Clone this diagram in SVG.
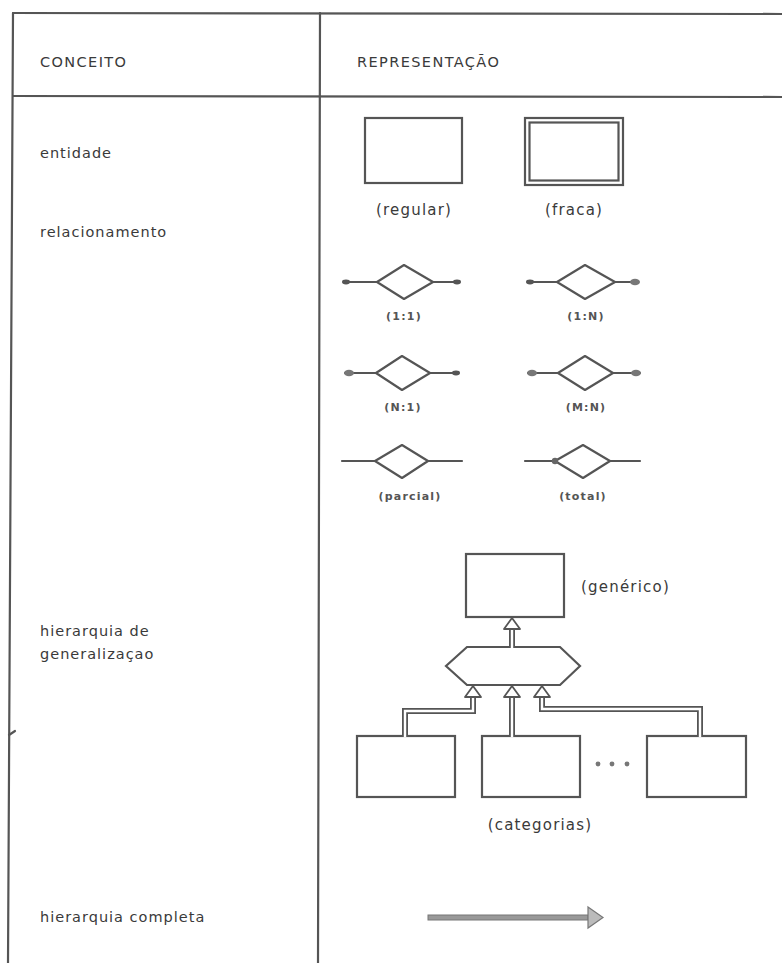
<svg xmlns="http://www.w3.org/2000/svg" width="782" height="963" viewBox="0 0 782 963">
<style>
.ln{stroke:#555;stroke-width:2.2;fill:none;stroke-linecap:round;stroke-linejoin:round}
.bx{stroke:#555;stroke-width:2.2;fill:#fff}
.t{font-family:"DejaVu Sans","Liberation Sans",sans-serif;font-size:14.5px;fill:#3a3a3a;letter-spacing:1px}
.c{font-family:"DejaVu Sans","Liberation Sans",sans-serif;font-size:15px;fill:#3a3a3a;letter-spacing:1.2px}
.h{font-family:"DejaVu Sans","Liberation Sans",sans-serif;font-size:14.5px;fill:#3a3a3a;letter-spacing:1.4px}
.s{font-family:"DejaVu Sans","Liberation Sans",sans-serif;font-size:11px;fill:#555;letter-spacing:1.2px;font-weight:bold}
.dbl{stroke:#555;stroke-width:6;fill:none;stroke-linejoin:miter}
.dbli{stroke:#fff;stroke-width:2.4;fill:none;stroke-linejoin:miter}
.head{fill:#fff;stroke:#555;stroke-width:1.8;stroke-linejoin:round}
.one{fill:#555}
.many{fill:#777}
</style>
<g id="table">
<path class="ln" d="M13,13 L782,14"/>
<path class="ln" d="M13,96 L782,97"/>
<path class="ln" d="M13,13 L8,963"/>
<path class="ln" d="M320,13 L318,963"/>
<path class="ln" d="M9,735 L15,731"/>
<text class="h" x="40" y="67">CONCEITO</text>
<text class="h" x="357" y="67">REPRESENTAÇÃO</text>
</g>
<g id="concepts">
<text class="t" x="40" y="158">entidade</text>
<text class="t" x="40" y="237">relacionamento</text>
<text class="t" x="40" y="636">hierarquia  de</text>
<text class="t" x="40" y="659">generalizaçao</text>
<text class="t" x="40" y="922" letter-spacing="0.6">hierarquia  completa</text>
</g>
<g id="entidade-regular">
<rect class="bx" x="365" y="118" width="97" height="65"/>
<text class="c" x="414" y="215" text-anchor="middle">(regular)</text>
</g>
<g id="entidade-fraca">
<rect class="bx" x="525" y="118" width="98" height="67"/>
<rect class="bx" x="529.5" y="122.5" width="89" height="58"/>
<text class="c" x="574" y="215" text-anchor="middle">(fraca)</text>
</g>
<g id="rel-1-1">
<path class="ln" d="M345,282 L377,282 L404,265 L433,282 L458,282 M377,282 L404,299 L433,282"/>
<ellipse class="one" cx="346" cy="282" rx="4" ry="2.4"/>
<ellipse class="one" cx="457" cy="282" rx="4" ry="2.4"/>
<text class="s" x="404" y="320" text-anchor="middle">(1:1)</text>
</g>
<g id="rel-1-N">
<path class="ln" d="M529,282 L557,282 L585,265 L615,282 L638,282 M557,282 L585,299 L615,282"/>
<ellipse class="one" cx="530" cy="282" rx="4" ry="2.4"/>
<ellipse class="many" cx="635" cy="282" rx="5" ry="3.2"/>
<text class="s" x="586" y="320" text-anchor="middle">(1:N)</text>
</g>
<g id="rel-N-1">
<path class="ln" d="M345,373 L376,373 L402,356 L430,373 L458,373 M376,373 L402,390 L430,373"/>
<ellipse class="many" cx="349" cy="373" rx="5" ry="3.2"/>
<ellipse class="one" cx="456" cy="373" rx="4" ry="2.4"/>
<text class="s" x="403" y="411" text-anchor="middle">(N:1)</text>
</g>
<g id="rel-M-N">
<path class="ln" d="M528,373 L558,373 L585,356 L613,373 L640,373 M558,373 L585,390 L613,373"/>
<ellipse class="many" cx="532" cy="373" rx="5" ry="3.2"/>
<ellipse class="many" cx="636" cy="373" rx="5" ry="3.2"/>
<text class="s" x="586" y="411" text-anchor="middle">(M:N)</text>
</g>
<g id="rel-parcial">
<path class="ln" d="M342,461 L375,461 L402,445 L428,461 L462,461 M375,461 L402,478 L428,461"/>
<text class="s" x="410" y="500" text-anchor="middle">(parcial)</text>
</g>
<g id="rel-total">
<path class="ln" d="M525,461 L555,461 L583,445 L610,461 L640,461 M555,461 L583,478 L610,461"/>
<circle cx="555" cy="461" r="3.2" fill="#666"/>
<text class="s" x="583" y="500" text-anchor="middle">(total)</text>
</g>
<g id="generico">
<rect class="bx" x="466" y="554" width="98" height="63"/>
<text class="c" x="581" y="592">(genérico)</text>
</g>
<g id="hexagono">
<polygon class="bx" points="467,647 560,647 580,666 560,685 467,685 446,666"/>
</g>
<g id="categoria-1"><rect class="bx" x="357" y="736" width="98" height="61"/></g>
<g id="categoria-2"><rect class="bx" x="482" y="736" width="98" height="61"/></g>
<g id="categoria-3"><rect class="bx" x="647" y="736" width="99" height="61"/></g>
<g id="reticencias">
<circle cx="598" cy="764" r="2.4" fill="#777"/>
<circle cx="612" cy="764" r="2.4" fill="#777"/>
<circle cx="627" cy="764" r="2.4" fill="#777"/>
<text class="c" x="540" y="830" text-anchor="middle">(categorias)</text>
</g>
<g id="connectors">
<path class="dbl" d="M512,647 L512,628"/>
<path class="dbli" d="M512,648 L512,627"/>
<polygon class="head" points="512,618 520,629 504,629"/>
<path class="dbl" d="M405,736 L405,711 L473,711 L473,696"/>
<path class="dbli" d="M405,737 L405,711 L473,711 L473,695"/>
<polygon class="head" points="473,686 481,697 465,697"/>
<path class="dbl" d="M512,736 L512,696"/>
<path class="dbli" d="M512,737 L512,695"/>
<polygon class="head" points="512,686 520,697 504,697"/>
<path class="dbl" d="M542,696 L542,709 L700,709 L700,736"/>
<path class="dbli" d="M542,695 L542,709 L700,709 L700,737"/>
<polygon class="head" points="542,686 550,697 534,697"/>
</g>
<g id="hierarquia-completa">
<rect x="428" y="915" width="160" height="5" fill="#999" stroke="#777" stroke-width="1"/>
<polygon points="588,907 603,917.5 588,928" fill="#bbb" stroke="#777" stroke-width="1.2"/>
</g>
</svg>
